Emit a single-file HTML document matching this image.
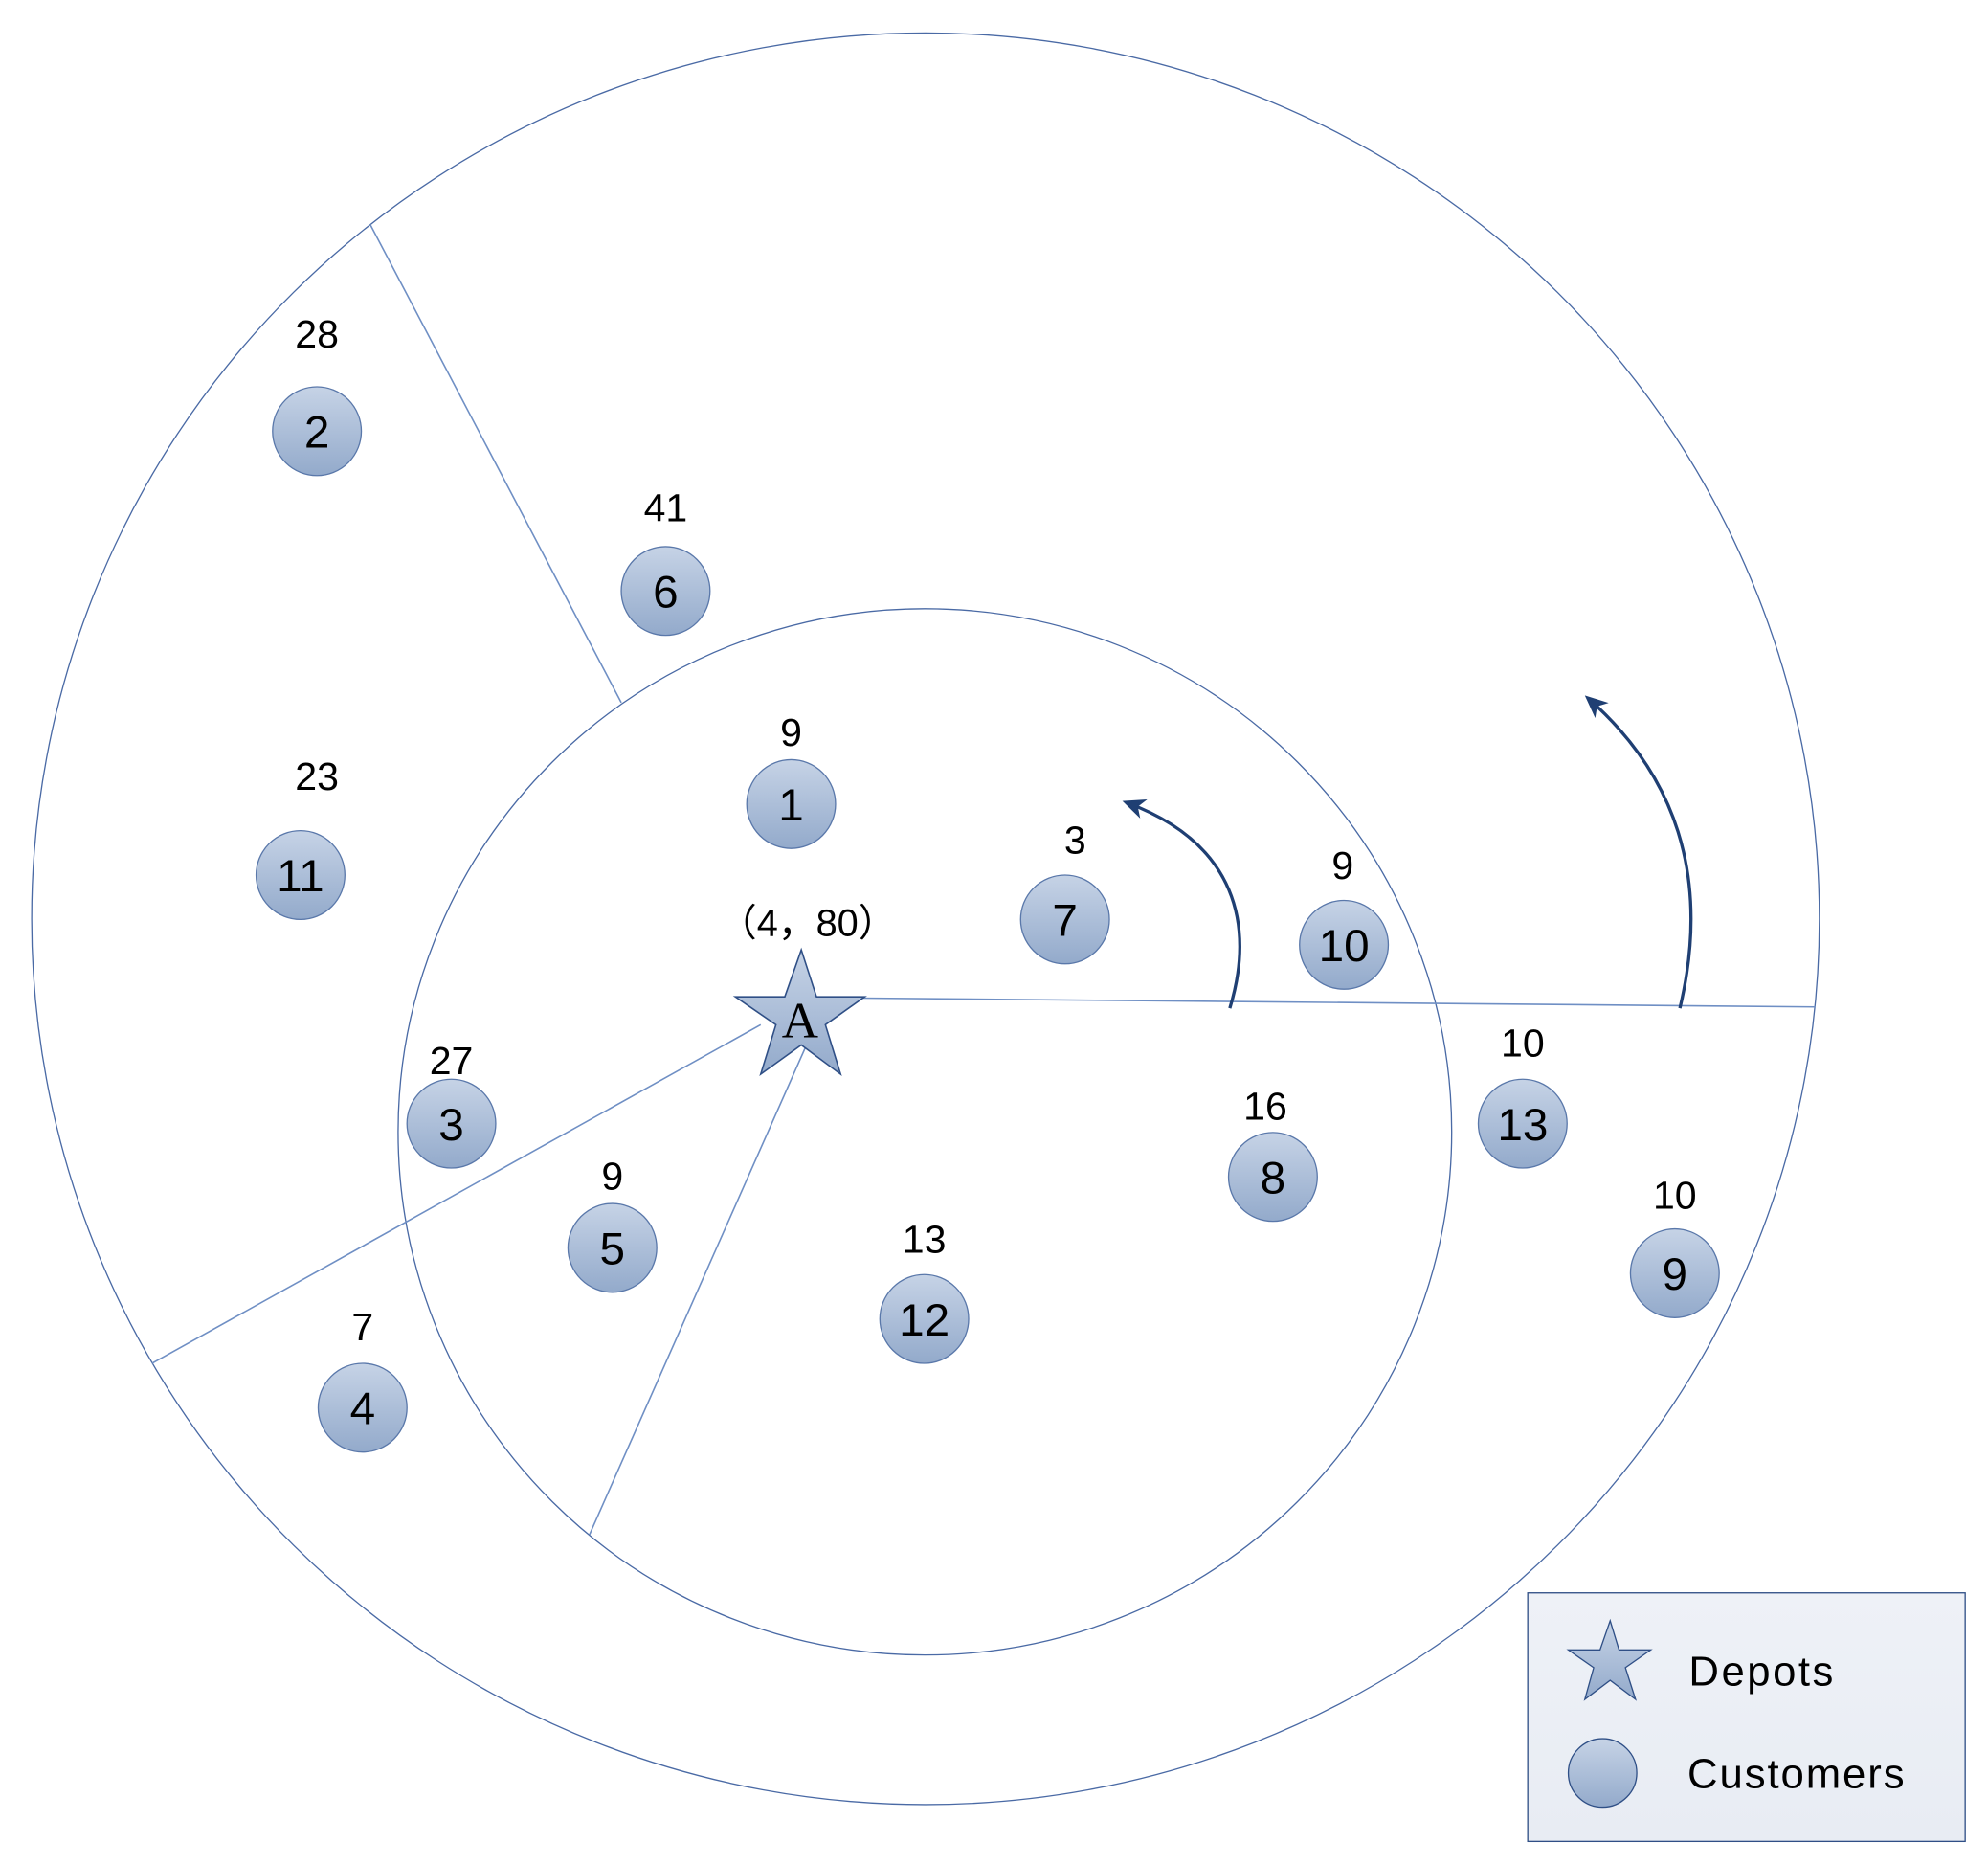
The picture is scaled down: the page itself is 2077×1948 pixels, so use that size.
<!DOCTYPE html>
<html><head><meta charset="utf-8"><style>html,body{margin:0;padding:0;background:#fff}svg{display:block}</style></head>
<body>
<svg width="2077" height="1948" viewBox="0 0 1568 1470.6" preserveAspectRatio="none" xmlns="http://www.w3.org/2000/svg">
<defs>
<linearGradient id="g" x1="0" y1="0" x2="0" y2="1"><stop offset="0" stop-color="#c6d3e6"/><stop offset="1" stop-color="#93aacb"/></linearGradient>
<linearGradient id="lg" x1="0" y1="0" x2="0" y2="1"><stop offset="0" stop-color="#eef1f7"/><stop offset="1" stop-color="#e8ecf3"/></linearGradient>
<marker id="ah" markerWidth="18" markerHeight="16" refX="14" refY="8" orient="auto" markerUnits="userSpaceOnUse"><path d="M0,0 L18,8 L0,16 L5,8 Z" fill="#1f3f73"/></marker>
</defs>
<g fill="none" stroke="#4a6aa5" stroke-width="1">
<ellipse cx="730" cy="724.5" rx="705" ry="698.5"/>
<ellipse cx="729.5" cy="892.5" rx="415.5" ry="412.5"/>
</g>
<g stroke="#6f8fc4" stroke-width="1.2">
<line x1="292" y1="177" x2="490" y2="554"/>
<line x1="680" y1="787" x2="1432" y2="794"/>
<line x1="600" y1="808" x2="120" y2="1075"/>
<line x1="637" y1="822" x2="465" y2="1210"/>
</g>
<g fill="none" stroke="#1f3f73" stroke-width="2.5">
<path d="M970,795 C990,730 975,665 889,633" marker-end="url(#ah)"/>
<path d="M1325,795 C1350,690 1320,610 1253,551" marker-end="url(#ah)"/>
</g>
<polygon points="632,749 644,786 682,786 651,808 663,847 632,824 600,847 612,808 580,786 619,786" fill="url(#g)" stroke="#2f4f86" stroke-width="1.2"/>
<text x="631" y="818" font-family="Liberation Serif, serif" font-size="40" text-anchor="middle" fill="#000">A</text>
<text x="637" y="738" font-family="Liberation Sans, 'Noto Sans CJK SC', sans-serif" font-size="30" text-anchor="middle" fill="#000">（4，80）</text>
<g font-family="Liberation Sans, sans-serif" text-anchor="middle" fill="#000">
<g stroke="#5a78aa" stroke-width="1" fill="url(#g)">
<circle cx="250" cy="340" r="35"/><circle cx="525" cy="466" r="35"/><circle cx="624" cy="634" r="35"/>
<circle cx="237" cy="690" r="35"/><circle cx="840" cy="725" r="35"/><circle cx="1060" cy="745" r="35"/>
<circle cx="356" cy="886" r="35"/><circle cx="483" cy="984" r="35"/><circle cx="729" cy="1040" r="35"/>
<circle cx="1004" cy="928" r="35"/><circle cx="1201" cy="886" r="35"/><circle cx="1321" cy="1004" r="35"/>
<circle cx="286" cy="1110" r="35"/>
</g>
<g font-size="36">
<text x="250" y="353">2</text><text x="525" y="479">6</text><text x="624" y="647">1</text>
<text x="237" y="703">11</text><text x="840" y="738">7</text><text x="1060" y="758">10</text>
<text x="356" y="899">3</text><text x="483" y="997">5</text><text x="729" y="1053">12</text>
<text x="1004" y="941">8</text><text x="1201" y="899">13</text><text x="1321" y="1017">9</text>
<text x="286" y="1123">4</text>
</g>
<g font-size="31">
<text x="250" y="274">28</text><text x="525" y="411">41</text><text x="624" y="588">9</text>
<text x="250" y="623">23</text><text x="848" y="673">3</text><text x="1059" y="693">9</text>
<text x="356" y="847">27</text><text x="483" y="938">9</text><text x="729" y="988">13</text>
<text x="998" y="883">16</text><text x="1201" y="833">10</text><text x="1321" y="953">10</text>
<text x="286" y="1057">7</text>
</g>
</g>
<rect x="1205" y="1256" width="345" height="196" fill="url(#lg)" stroke="#2f4f86" stroke-width="1"/>
<polygon points="1270,1278 1277,1301 1302,1301 1282,1315 1290,1340 1270,1325 1250,1340 1257,1315 1237,1301 1262,1301" fill="url(#g)" stroke="#2f4f86" stroke-width="1"/>
<circle cx="1264" cy="1398" r="27" fill="url(#g)" stroke="#2f4f86" stroke-width="1"/>
<g font-family="Liberation Sans, sans-serif" font-size="33" fill="#000">
<text x="1332" y="1329" textLength="114">Depots</text>
<text x="1331" y="1410" textLength="171">Customers</text>
</g>
</svg>
</body></html>
